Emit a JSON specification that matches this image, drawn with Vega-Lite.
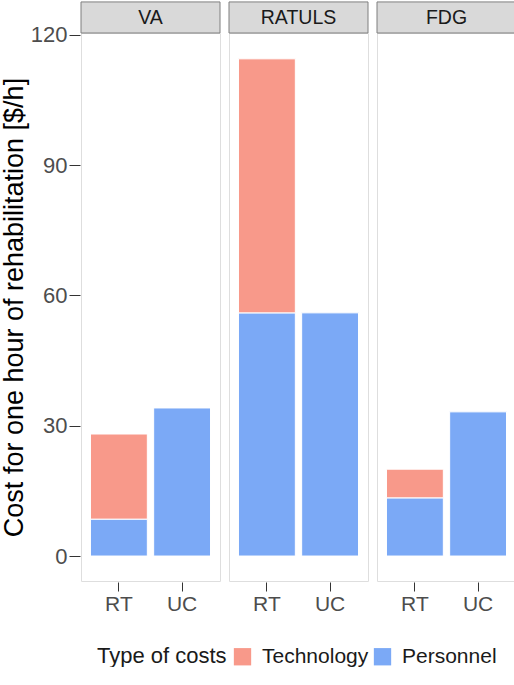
{
  "$schema": "https://vega.github.io/schema/vega-lite/v6.json",
  "padding": {"left": 0, "top": 0, "right": 0, "bottom": 0},
  "background": "white",
  "data": {
    "values": [
      {"panel": "VA", "cond": "RT", "type": "Personnel", "cost": 8.5},
      {"panel": "VA", "cond": "RT", "type": "Technology", "cost": 19.6},
      {"panel": "VA", "cond": "UC", "type": "Personnel", "cost": 34.1},
      {"panel": "RATULS", "cond": "RT", "type": "Personnel", "cost": 56.0},
      {"panel": "RATULS", "cond": "RT", "type": "Technology", "cost": 58.5},
      {"panel": "RATULS", "cond": "UC", "type": "Personnel", "cost": 56.0},
      {"panel": "FDG", "cond": "RT", "type": "Personnel", "cost": 13.4},
      {"panel": "FDG", "cond": "RT", "type": "Technology", "cost": 6.6},
      {"panel": "FDG", "cond": "UC", "type": "Personnel", "cost": 33.2}
    ]
  },
  "facet": {
    "column": {
      "field": "panel",
      "sort": ["VA", "RATULS", "FDG"],
      "header": {"labels": false, "title": null}
    }
  },
  "spacing": 7,
  "spec": {
    "width": 139,
    "height": 548,
    "view": {"stroke": "#dedede", "strokeWidth": 1},
    "encoding": {
      "y": {
        "type": "quantitative",
        "scale": {"domain": [-5.75, 120.45], "nice": false, "zero": false},
        "axis": {
          "title": "Cost for one hour of rehabilitation [$/h]",
          "titleFontSize": 27,
          "titleFontWeight": "normal",
          "titleColor": "black",
          "values": [0, 30, 60, 90, 120],
          "labelFontSize": 22,
          "labelColor": "#4d4d4d",
          "tickColor": "#333333",
          "tickSize": 11,
          "domain": false,
          "grid": false,
          "labelPadding": 2,
          "titlePadding": 2
        }
      }
    },
    "layer": [
      {
        "mark": {"type": "bar", "stroke": "white", "strokeWidth": 1},
        "encoding": {
          "x": {
            "field": "cond",
            "type": "nominal",
            "scale": {"paddingInner": 0.1, "paddingOuter": 0.15},
            "axis": {
              "title": null,
              "labelAngle": 0,
              "labelFontSize": 21,
              "labelColor": "#4d4d4d",
              "tickColor": "#333333",
              "tickSize": 9,
              "domain": false,
              "labelPadding": 2
            }
          },
          "y": {"field": "cost", "stack": "zero"},
          "color": {
            "field": "type",
            "type": "nominal",
            "scale": {"domain": ["Technology", "Personnel"], "range": ["#F8998A", "#7BA9F6"]},
            "legend": {
              "title": "Type of costs",
              "orient": "none",
              "legendX": 16,
              "legendY": 613,
              "direction": "horizontal",
              "titleOrient": "left",
              "titleFontSize": 22,
              "titleFontWeight": "normal",
              "titleColor": "#1a1a1a",
              "titlePadding": 5,
              "labelFontSize": 21,
              "labelColor": "#1a1a1a",
              "labelOffset": 9,
              "symbolType": "square",
              "symbolSize": 300,
              "symbolStrokeWidth": 0,
              "columnPadding": 3
            }
          },
          "order": {"field": "type", "sort": "ascending"}
        }
      },
      {
        "transform": [{"aggregate": [{"op": "count", "as": "n"}], "groupby": ["panel"]}],
        "mark": {"type": "rect", "fill": "#d9d9d9", "stroke": "#7f7f7f", "strokeWidth": 1, "clip": false},
        "encoding": {
          "y": {"datum": 127.6},
          "y2": {"datum": 120.45}
        }
      },
      {
        "transform": [{"aggregate": [{"op": "count", "as": "n"}], "groupby": ["panel"]}],
        "mark": {"type": "text", "fontSize": 19.5, "color": "#1a1a1a", "baseline": "middle"},
        "encoding": {
          "y": {"datum": 124.0},
          "text": {"field": "panel"}
        }
      }
    ]
  },
  "config": {
    "font": "Liberation Sans"
  }
}
